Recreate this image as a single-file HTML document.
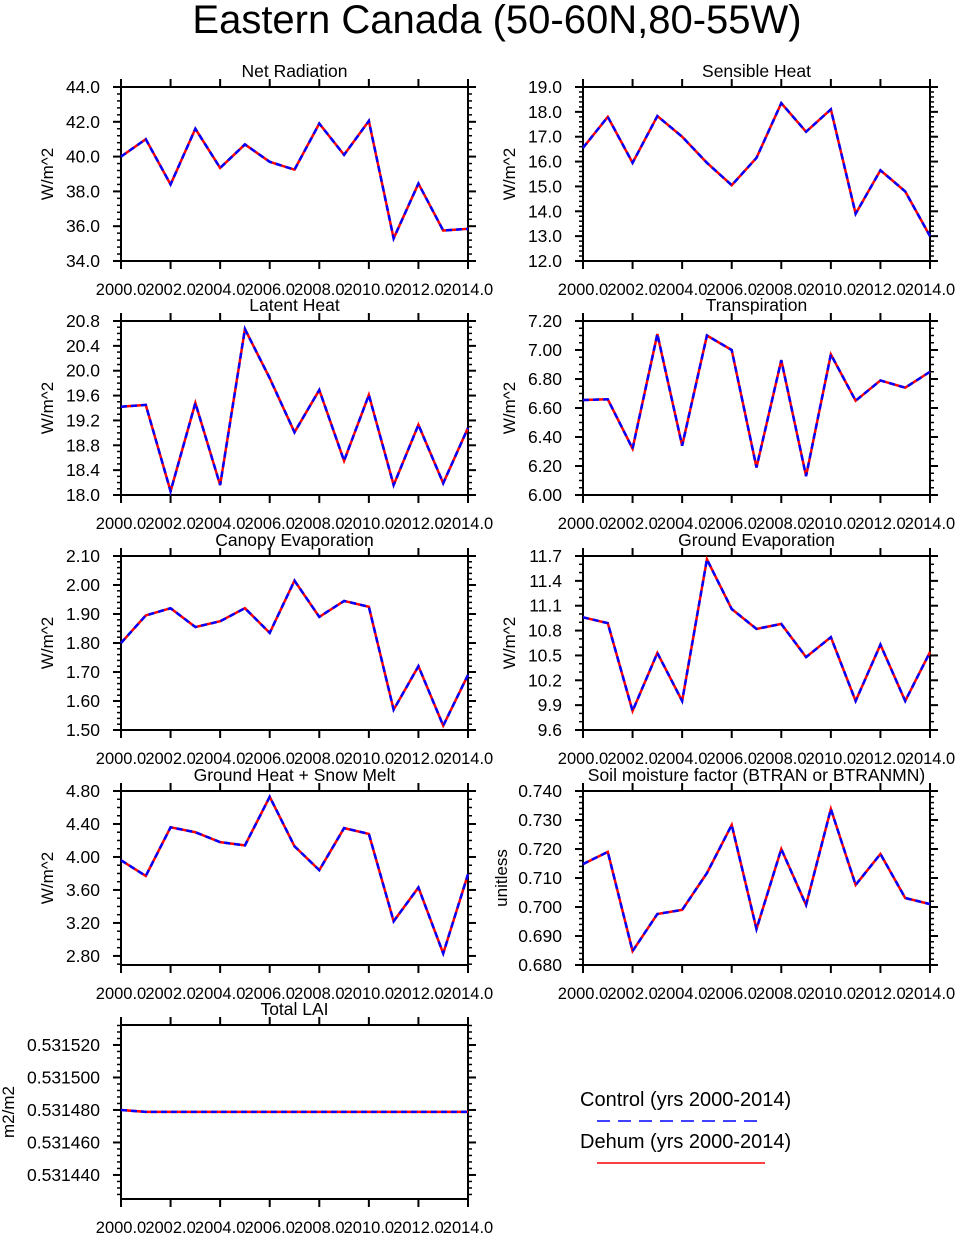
<!DOCTYPE html>
<html><head><meta charset="utf-8"><style>
body{margin:0;background:#fff;}
svg{display:block;font-family:"Liberation Sans",Arial,sans-serif;}
</style></head><body>
<svg id="chart" width="956" height="1233" viewBox="0 0 956 1233" xmlns="http://www.w3.org/2000/svg">
<text x="497" y="33" font-size="40" text-anchor="middle">Eastern Canada (50-60N,80-55W)</text>
<g>
<text x="580" y="1106" font-size="20">Control (yrs 2000-2014)</text>
<line x1="597" y1="1121" x2="765" y2="1121" stroke="#0000ff" stroke-width="1.5" stroke-dasharray="13,8"/>
<text x="580" y="1148" font-size="20">Dehum (yrs 2000-2014)</text>
<line x1="597" y1="1163" x2="765" y2="1163" stroke="#ff0000" stroke-width="1.5"/>
</g>
</svg>
<script>
const years = [2000,2001,2002,2003,2004,2005,2006,2007,2008,2009,2010,2011,2012,2013,2014];
const xTickLabels = ["2000.0","2002.0","2004.0","2006.0","2008.0","2010.0","2012.0","2014.0"];
const netRadiation = [40.0,41.0,38.4,41.6,39.35,40.7,39.7,39.25,41.9,40.1,42.05,35.3,38.45,35.75,35.85];
const sensibleHeat = [16.55,17.8,15.95,17.83,17.0,15.95,15.05,16.15,18.35,17.2,18.1,13.9,15.65,14.8,13.0];
const latentHeat = [19.42,19.45,18.06,19.48,18.16,20.67,19.88,19.01,19.69,18.55,19.61,18.16,19.13,18.19,19.08];
const transpiration = [6.655,6.66,6.32,7.11,6.34,7.10,7.0,6.19,6.93,6.13,6.97,6.65,6.79,6.74,6.85];
const canopyEvap = [1.80,1.895,1.92,1.855,1.875,1.92,1.835,2.015,1.89,1.945,1.925,1.57,1.72,1.515,1.69];
const groundEvap = [10.96,10.89,9.83,10.53,9.95,11.66,11.06,10.82,10.88,10.48,10.72,9.95,10.63,9.95,10.54];
const groundHeat = [3.96,3.77,4.36,4.30,4.18,4.14,4.73,4.13,3.84,4.35,4.28,3.22,3.63,2.83,3.79];
const soilMoisture = [0.7148,0.719,0.6848,0.6976,0.699,0.7117,0.7283,0.6924,0.72,0.7007,0.7338,0.7076,0.7183,0.7031,0.701];
const totalLAI = [0.531480,0.5314788,0.5314788,0.5314788,0.5314788,0.5314788,0.5314788,0.5314788,0.5314788,0.5314788,0.5314788,0.5314788,0.5314788,0.5314788,0.5314788];
const netRadTicks = [34,36,38,40,42,44];
const sensTicks = [12,13,14,15,16,17,18,19];
const latTicks = [18.0,18.4,18.8,19.2,19.6,20.0,20.4,20.8];
const transTicks = [6.0,6.2,6.4,6.6,6.8,7.0,7.2];
const canTicks = [1.5,1.6,1.7,1.8,1.9,2.0,2.1];
const gevTicks = [9.6,9.9,10.2,10.5,10.8,11.1,11.4,11.7];
const ghTicks = [2.8,3.2,3.6,4.0,4.4,4.8];
const smTicks = [0.68,0.69,0.70,0.71,0.72,0.73,0.74];
const laiTicks = [0.53144,0.53146,0.53148,0.53150,0.53152];

const panels = [
 {name:"net-radiation",title:"Net Radiation",ylab:"W/m^2",yo:68,x:121,y:87,vals:netRadiation,ymin:34,ymax:44,ticks:netRadTicks,dec:1,minor:5},
 {name:"sensible-heat",title:"Sensible Heat",ylab:"W/m^2",yo:68,x:583,y:87,vals:sensibleHeat,ymin:12,ymax:19,ticks:sensTicks,dec:1,minor:5},
 {name:"latent-heat",title:"Latent Heat",ylab:"W/m^2",yo:68,x:121,y:321,vals:latentHeat,ymin:18,ymax:20.8,ticks:latTicks,dec:1,minor:4},
 {name:"transpiration",title:"Transpiration",ylab:"W/m^2",yo:68,x:583,y:321,vals:transpiration,ymin:6,ymax:7.2,ticks:transTicks,dec:2,minor:4},
 {name:"canopy-evaporation",title:"Canopy Evaporation",ylab:"W/m^2",yo:68,x:121,y:556,vals:canopyEvap,ymin:1.5,ymax:2.1,ticks:canTicks,dec:2,minor:5},
 {name:"ground-evaporation",title:"Ground Evaporation",ylab:"W/m^2",yo:68,x:583,y:556,vals:groundEvap,ymin:9.6,ymax:11.7,ticks:gevTicks,dec:1,minor:3},
 {name:"ground-heat-snow-melt",title:"Ground Heat + Snow Melt",ylab:"W/m^2",yo:68,x:121,y:791,vals:groundHeat,ymin:2.69,ymax:4.80,ticks:ghTicks,dec:2,minor:4},
 {name:"soil-moisture-factor",title:"Soil moisture factor (BTRAN or BTRANMN)",ylab:"unitless",yo:76,x:583,y:791,vals:soilMoisture,ymin:0.68,ymax:0.74,ticks:smTicks,dec:3,minor:5},
 {name:"total-lai",title:"Total LAI",ylab:"m2/m2",yo:107,x:121,y:1025,vals:totalLAI,ymin:0.5314252,ymax:0.5315323,ticks:laiTicks,dec:6,minor:5}
];
const W=347,H=174;
const NS="http://www.w3.org/2000/svg";
const svg=document.getElementById('chart');
function mk(tag,attrs,parent){const e=document.createElementNS(NS,tag);for(const k in attrs)e.setAttribute(k,attrs[k]);parent.appendChild(e);return e;}
panels.forEach(p=>{
 const g=mk('g',{},svg);
 
 
 const xs=v=>p.x+(v-years[0])/(years[years.length-1]-years[0])*W;
 const ys=v=>p.y+H-(v-p.ymin)/(p.ymax-p.ymin)*H;
 const t=mk('text',{x:p.x+W/2,y:p.y-10,'font-size':17.5,'text-anchor':'middle'},g);t.textContent=p.title;
 
 
 const yl=mk('text',{x:0,y:0,'font-size':17,'text-anchor':'middle',transform:`translate(${p.x-p.yo},${p.y+H/2}) rotate(-90)`},g);yl.textContent=p.ylab;
 
 
 xTickLabels.forEach((lab)=>{
  const xv=xs(parseFloat(lab));
  mk('line',{x1:xv,y1:p.y+H,x2:xv,y2:p.y+H+8,stroke:'#000','stroke-width':2},g);
  mk('line',{x1:xv,y1:p.y,x2:xv,y2:p.y-8,stroke:'#000','stroke-width':2},g);
  const tl=mk('text',{x:xv,y:p.y+H+34,'font-size':16.5,'text-anchor':'middle'},g);tl.textContent=lab;
  
  
 });
 const step=p.ticks[1]-p.ticks[0];
 const ms=step/p.minor;
 for(let v=p.ticks[0]-step;v<=p.ticks[p.ticks.length-1]+step+1e-12;v+=ms){
  if(v<p.ymin-1e-12||v>p.ymax+1e-12)continue;
  const yv=ys(v);
  mk('line',{x1:p.x,y1:yv,x2:p.x-4,y2:yv,stroke:'#000','stroke-width':1.5},g);
  mk('line',{x1:p.x+W,y1:yv,x2:p.x+W+4,y2:yv,stroke:'#000','stroke-width':1.5},g);
 }
 p.ticks.forEach(v=>{
  const yv=ys(v);
  mk('line',{x1:p.x,y1:yv,x2:p.x-8,y2:yv,stroke:'#000','stroke-width':2},g);
  mk('line',{x1:p.x+W,y1:yv,x2:p.x+W+8,y2:yv,stroke:'#000','stroke-width':2},g);
  const tl=mk('text',{x:p.x-21,y:yv+6,'font-size':17.5,'text-anchor':'end'},g);tl.textContent=v.toFixed(p.dec);
  
  
 });
 mk('rect',{x:p.x,y:p.y,width:W,height:H,fill:'none',stroke:'#000','stroke-width':2},g);
 const pts=p.vals.map((v,i)=>xs(years[i])+','+ys(v)).join(' ');
 const r=mk('polyline',{points:pts,fill:'none',stroke:'#ff0000','stroke-width':2.5},g);
 
 
 const b=mk('polyline',{points:pts,fill:'none',stroke:'#0000ff','stroke-width':2.5,'stroke-dasharray':'6,4'},g);
 
 
});
</script>
</body></html>
